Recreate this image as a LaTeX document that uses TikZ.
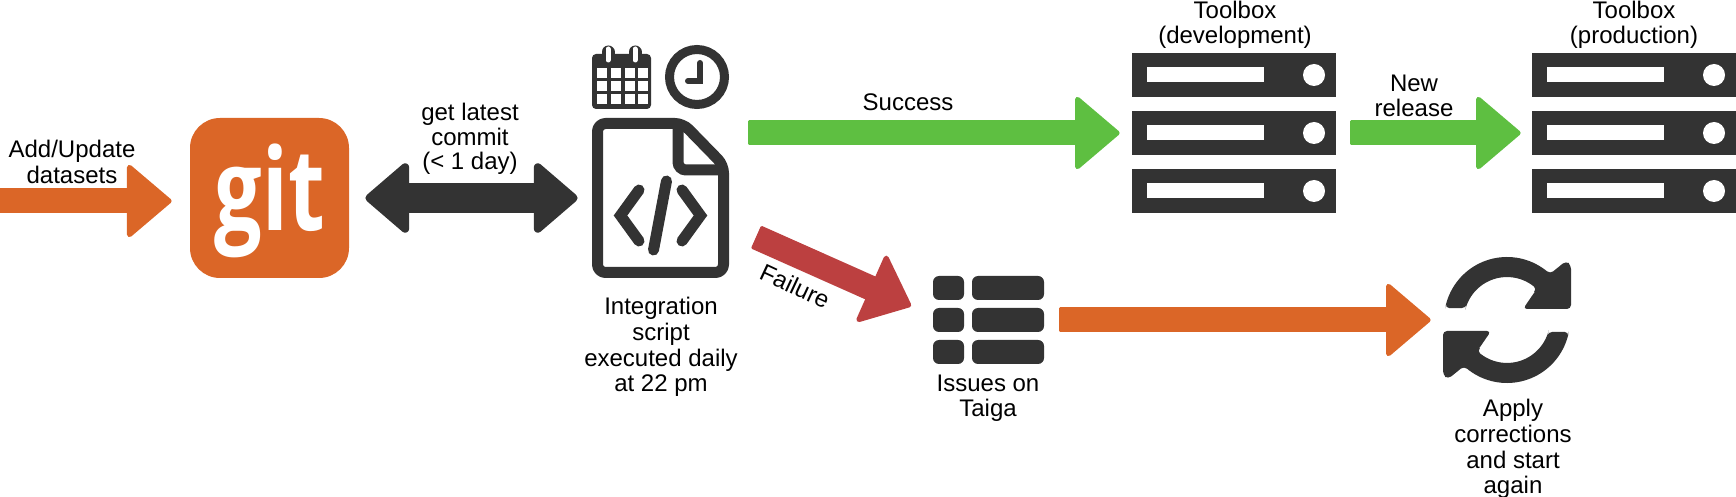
\documentclass[tikz,border=0pt]{standalone}
\usepackage{graphicx}
\usepackage{fontspec}
\setmainfont{Liberation Sans}
\newfontfamily\gitfont[BoldFont={Open Sans Bold}]{Open Sans}
\usetikzlibrary{arrows.meta,calc}
\definecolor{orangeC}{HTML}{DB6627}
\definecolor{darkC}{HTML}{333333}
\definecolor{greenC}{HTML}{5EBF41}
\definecolor{redC}{HTML}{BC4040}
\tikzset{
  lbl/.style={font=\fontsize{12}{12.6}\selectfont,align=center,inner sep=0pt,text=black},
  slot/.style={inner sep=0pt,draw=none,fill=none},
  block/.style={line width=12.5pt,{Rectangle[length=2.5pt,width=12.5pt,round,line width=2.5pt]}-{Triangle[length=23pt,width=38.5pt,round,line width=2.5pt]}},
  dblock/.style={line width=15pt,{Triangle[length=23pt,width=38.5pt,round,line width=4pt]}-{Triangle[length=23pt,width=38.5pt,round,line width=4pt]}},
  rowbox/.style={fill=darkC,rounded corners=3pt},
}
\newcommand{\serverstack}{%
  \foreach \yy in {53,111,169}{
    \fill[darkC] (1132,\yy) rectangle (1336,\yy+44);
    \fill[white] (1147,\yy+14.5) rectangle (1264,\yy+29.5);
    \fill[white] (1314,\yy+22) circle (5.5pt);
  }}
\newcommand{\syncpiece}{%
  \fill[darkC,rounded corners=2pt] plot[domain=191:313,samples=40] ({1507+63*cos(\x)},{320+63*sin(\x)})
    -- (1566,261) -- (1571,265) -- (1571,309) -- (1523,309) -- (1536,290)
    -- plot[domain=314:196,samples=40] ({1507+43*cos(\x)},{320+43*sin(\x)}) -- cycle;}
\begin{document}
\begin{tikzpicture}[x=0.5pt,y=-0.5pt]
\useasboundingbox (0,0) rectangle (1736,497);
% git
\node[fill=orangeC,rounded corners=15pt,minimum width=79.5pt,minimum height=80pt,inner sep=0pt] (git) at (269.5,198) {};
\node[inner sep=0pt,text=white] (gitword) at (270,200.5) {\scalebox{.74}[1]{\gitfont\bfseries\fontsize{57}{57}\selectfont git}};
% slots for icons
\node[slot,minimum width=68.5pt,minimum height=80pt] (file) at (660.5,198) {};
\node[slot,minimum width=102pt,minimum height=80pt] (dev) at (1234,133) {};
\node[slot,minimum width=102pt,minimum height=80pt] (prod) at (1634,133) {};
\node[slot,minimum width=55.5pt,minimum height=44pt] (taiga) at (988.5,320) {};
\node[slot,minimum width=63pt,minimum height=63pt] (sync) at (1507,320) {};
\coordinate (inStart) at (0,201);
\coordinate (failStart) at (756,237);
\coordinate (failTip) at (911,306);
% file icon
\draw[darkC,line width=5.5pt,line join=round,rounded corners=4pt]
  (597.5,123.5) -- (683,123.5) -- (723.5,165) -- (723.5,272.5) -- (597.5,272.5) -- cycle;
\draw[darkC,line width=5.5pt,rounded corners=4pt] (678,123.5) -- (678,170) -- (723.5,170);
\draw[darkC,line width=5.5pt,line cap=round,line join=miter] (639,190) -- (620.5,215.5) -- (639,241);
\draw[darkC,line width=5.5pt,line cap=round,line join=miter] (682,190) -- (700.5,215.5) -- (682,241);
\draw[darkC,line width=5.5pt,line cap=round] (666.5,181) -- (653.5,250);
% calendar
\fill[darkC,rounded corners=2pt] (592,54) rectangle (651,109);
\foreach \xx in {608,635}{
  \draw[darkC,line width=6.5pt,line cap=round] (\xx,52) -- (\xx,58);
  \draw[white,line width=2.5pt,line cap=round] (\xx,49) -- (\xx,60);
}
\foreach \xx in {597,611,624.5,637.5}{
  \foreach \yy in {68,81,94}{
    \fill[white] (\xx,\yy) rectangle (\xx+10,\yy+10.5);
  }}
% clock
\draw[darkC,line width=4.5pt] (697,77) circle (13.75pt);
\draw[darkC,line width=3pt,line cap=round,line join=miter] (700,63) -- (700,81) -- (688,81);
% servers
\serverstack
\begin{scope}[shift={(400,0)}]\serverstack\end{scope}
% issues
\foreach \yy in {276,308,340}{
  \fill[rowbox] (933,\yy) rectangle (964,\yy+24);
  \fill[rowbox] (972,\yy) rectangle (1044,\yy+24);
}
% sync icon
\syncpiece
\begin{scope}[rotate around={180:(1507,320)}]\syncpiece\end{scope}
% connectors
\draw[block,orangeC,shorten >=9pt,shorten <=-3pt] (inStart) -- (inStart -| git.west);
\draw[dblock,darkC,shorten <=8pt,shorten >=7pt] (git.east) -- (file.west);
\draw[block,greenC,shorten <=9.5pt,shorten >=6pt] (file.east |- dev.west) -- (dev.west);
\draw[block,greenC,shorten <=7pt,shorten >=5.5pt] (dev.east) -- (prod.west);
\draw[block,redC] (failStart) -- (failTip);
\draw[block,orangeC,shorten <=7.5pt,shorten >=6.5pt] (taiga.east) -- (sync.west);
% labels
\node[lbl] (lblIn) at (72,162) {Add/Update\\datasets};
\node[lbl,font=\fontsize{12}{12.2}\selectfont] (lblCommit) at (470,139) {get latest\\commit\\(< 1 day)};
\node[lbl] (lblOk) at (908,102) {Success};
\node[lbl] (lblNew) at (1414,96) {New\\release};
\node[lbl,rotate=-25] (lblFail) at (795,286) {Failure};
\node[lbl] (lblDev) at (1235,25) {Toolbox\\(development)};
\node[lbl] (lblProd) at (1634,25) {Toolbox\\(production)};
\node[lbl,font=\fontsize{12}{12.8}\selectfont] (lblScript) at (661,347) {Integration\\script\\executed daily\\at 22 pm};
\node[lbl] (lblTaiga) at (988,398) {Issues on\\Taiga};
\node[lbl,font=\fontsize{12}{12.8}\selectfont] (lblApply) at (1513,449) {Apply\\corrections\\and start\\again};
\end{tikzpicture}
\end{document}
